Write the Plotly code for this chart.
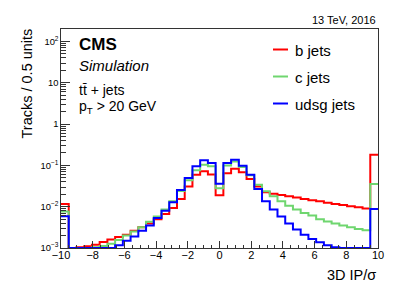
import numpy as np
import plotly.graph_objects as go

# ---- data (41 bins spanning -10 .. 10) ----
x_min, x_max, n_bins = -10.0, 10.0, 41
b_jets = [0.0116, 0.001, 0.00104, 0.0011, 0.0012, 0.0014, 0.0016, 0.00185, 0.0021, 0.0026,
          0.0032, 0.0039, 0.005, 0.0067, 0.0093, 0.0154, 0.031, 0.0597, 0.072, 0.060,
          0.0190, 0.065, 0.083, 0.068, 0.047, 0.031, 0.0223, 0.0207, 0.0192, 0.0178,
          0.0166, 0.0154, 0.0143, 0.0135, 0.0125, 0.0116, 0.0110, 0.0102, 0.0097, 0.0091,
          0.182]
c_jets = [0.0077, 0.001, 0.001, 0.001, 0.00104, 0.00112, 0.00127, 0.00156, 0.0020, 0.0025,
          0.0032, 0.0043, 0.0058, 0.0085, 0.0135, 0.024, 0.0435, 0.076, 0.104, 0.095,
          0.028, 0.099, 0.125, 0.091, 0.0575, 0.034, 0.0236, 0.0178, 0.0135, 0.0106,
          0.0085, 0.0070, 0.0061, 0.0050, 0.0044, 0.0039, 0.0035, 0.0032, 0.0029, 0.0027,
          0.0355]
udsg_jets = [0.00585, 0.001, 0.001, 0.001, 0.001, 0.001, 0.001, 0.00116, 0.0015, 0.0019,
             0.0026, 0.0035, 0.0053, 0.008, 0.0128, 0.0255, 0.0495, 0.095, 0.133, 0.114,
             0.036, 0.114, 0.138, 0.0986, 0.0597, 0.0268, 0.0135, 0.0085, 0.0058, 0.0039,
             0.0028, 0.0021, 0.00165, 0.00137, 0.00116, 0.00104, 0.001, 0.001, 0.001, 0.001,
             0.0088]
x_ticks = [-10, -8, -6, -4, -2, 0, 2, 4, 6, 8, 10]
series_names = ["b jets", "c jets", "udsg jets"]
series_colors = ["#ff0000", "#6fd66f", "#0000ff"]

# ---- layout geometry (pixels, in the 407x293 window; page body has an 8px margin) ----
OFF = 8
W, H = 407 - OFF, 293 - OFF
L, R, T, B = 61 - OFF, 29, 29 - OFF, 45
pw, ph = W - L - R, H - T - B


def px(x):
    return (x - OFF - L) / pw


def py(y):
    return (H - B - (y - OFF)) / ph


edges = np.linspace(x_min, x_max, n_bins + 1)

fig = go.Figure()
for name, vals, col in zip(series_names, [b_jets, c_jets, udsg_jets], series_colors):
    fig.add_trace(go.Scatter(
        x=edges, y=list(vals) + [vals[-1]], mode="lines", name=name,
        line=dict(color=col, width=2, shape="hv"), showlegend=False,
    ))

FONT = "Liberation Sans, Arial, Helvetica, sans-serif"
ann = []
ann.append(dict(text="13 TeV, 2016", x=px(378), y=py(20), xanchor="right", yanchor="middle",
                font=dict(size=11)))
ann.append(dict(text="<b>CMS</b>", x=px(77), y=py(44.5), xanchor="left", yanchor="middle",
                font=dict(size=17)))
ann.append(dict(text="<i>Simulation</i>", x=px(77), y=py(65.5), xanchor="left", yanchor="middle",
                font=dict(size=15)))
ann.append(dict(text="tt\u0304 + jets", x=px(76.5), y=py(89.5), xanchor="left", yanchor="middle",
                font=dict(size=14)))
ann.append(dict(text="p<sub>T</sub> > 20 GeV", x=px(76.5), y=py(107), xanchor="left",
                yanchor="middle", font=dict(size=14)))
ann.append(dict(text="Tracks / 0.5 units", x=px(26.5), y=py(84), xanchor="center",
                yanchor="middle", textangle=-90, font=dict(size=14.5)))
ann.append(dict(text="3D IP/\u03c3", x=px(378), y=py(275), xanchor="right", yanchor="middle",
                font=dict(size=14.5)))

shapes = []
leg_y = [49.5, 76.5, 103.5]
for name, col, yy in zip(series_names, series_colors, leg_y):
    shapes.append(dict(type="line", xref="paper", yref="paper", x0=px(273), x1=px(288),
                       y0=py(yy), y1=py(yy), line=dict(color=col, width=2)))
    ann.append(dict(text=name, x=px(292.5), y=py(yy + 0.5), xanchor="left", yanchor="middle",
                    font=dict(size=15)))

for a in ann:
    a.update(xref="paper", yref="paper", showarrow=False)
    a["font"].update(family=FONT, color="black")

fig.update_layout(
    width=W, height=H, margin=dict(l=L, r=R, t=T, b=B, pad=0),
    paper_bgcolor="white", plot_bgcolor="white",
    font=dict(family=FONT, color="black"),
    annotations=ann, shapes=shapes, showlegend=False,
)
fig.update_xaxes(
    range=[x_min, x_max], tickvals=x_ticks, ticks="inside", ticklen=7, tickcolor="#333",
    tickfont=dict(size=11), ticklabelstandoff=-3, showgrid=False, zeroline=False,
    showline=True, linecolor="#333", linewidth=1, mirror=True,
    minor=dict(ticks="inside", ticklen=3.5, dtick=0.5, tick0=-10, tickcolor="#333", showgrid=False),
)
fig.update_yaxes(
    type="log", range=[-3, 2.303], dtick=1, exponentformat="power",
    ticks="inside", ticklen=9, tickcolor="#333", tickfont=dict(size=7.5),
    showgrid=False, zeroline=False, showline=True, linecolor="#333", linewidth=1, mirror=True,
    minor=dict(ticks="inside", ticklen=5, dtick="D1", tickcolor="#333", showgrid=False),
)

fig.write_html("out.html")
